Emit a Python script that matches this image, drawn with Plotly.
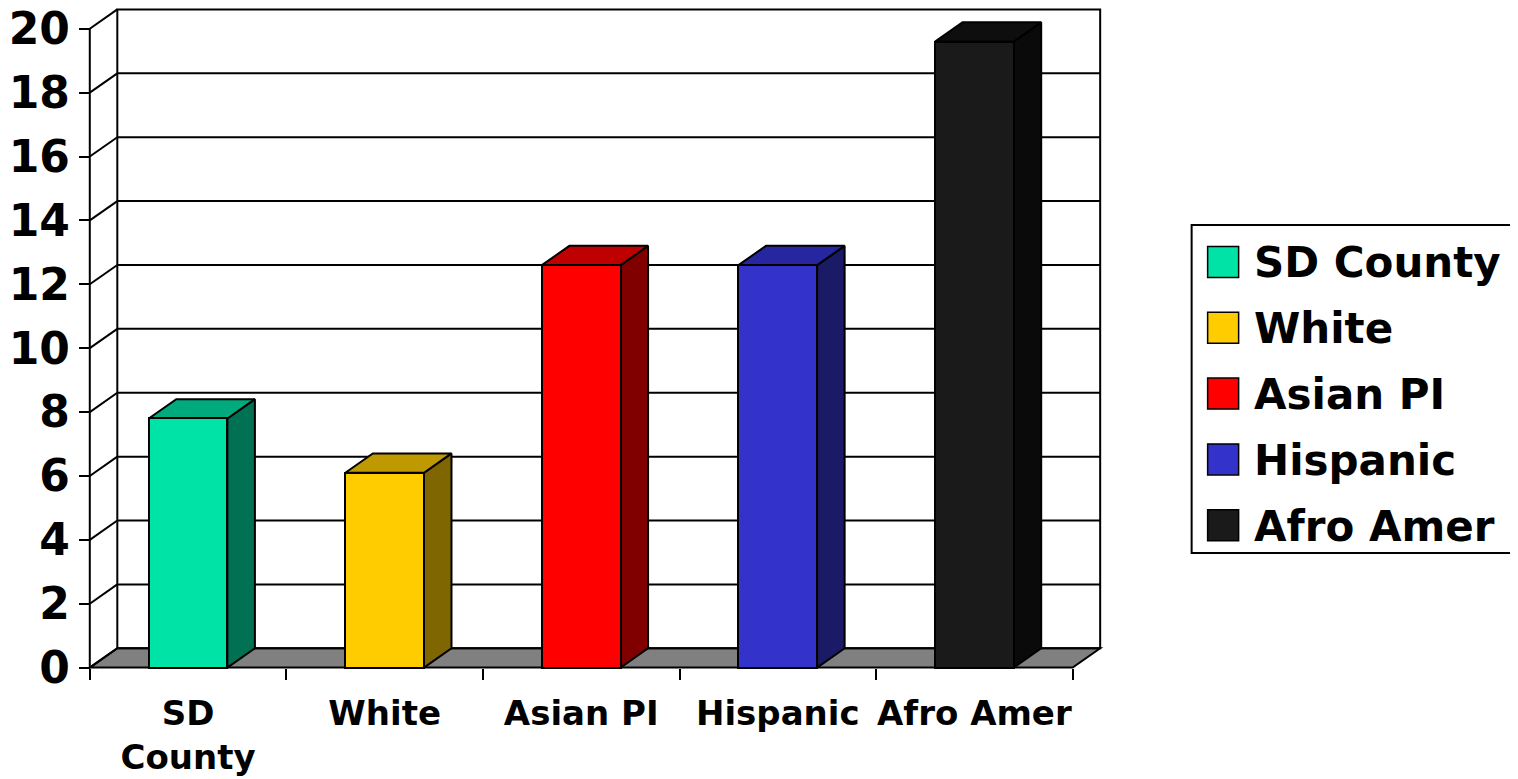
import plotly.graph_objects as go

# ---------------- data ----------------
categories = ["SD County", "White", "Asian PI", "Hispanic", "Afro Amer"]
axis_labels = ["SD<br>County", "White", "Asian PI", "Hispanic", "Afro Amer"]
values = [7.8, 6.1, 12.6, 12.6, 19.6]
y_tick_values = [0, 2, 4, 6, 8, 10, 12, 14, 16, 18, 20]
y_tick_labels = ["0", "2", "4", "6", "8", "10", "12", "14", "16", "18", "20"]

# ---------------- styles ----------------
front_colors = ["#00E3A6", "#FFCC00", "#FF0000", "#3333CC", "#1A1A1A"]
top_colors = ["#00AA7C", "#BF9900", "#BF0000", "#2626A0", "#0E0E0E"]
side_colors = ["#007153", "#806600", "#800000", "#1A1A66", "#0A0A0A"]
FONT = "DejaVu Sans"

W, H = 1518, 779
OFF = 8              # page body margin offset
PX_CAT = 196.6       # pixels per category
PX_UNIT = 31.93      # pixels per value unit
X_LEFT_PX = 90.0 - OFF     # pixel of front-left axis
Y_ZERO_PX = 667.5 - OFF    # pixel of front floor edge
DX = 0.14            # depth offset (category units)
DY = 0.605           # depth offset (value units)
BAR_W = 0.4
Y_MAX = 20
N = len(categories)

xr = [-0.56, N - 0.5 + DX + 0.05]
yr = [-0.2, Y_MAX + DY + 0.045]
plot_w = (xr[1] - xr[0]) * PX_CAT
plot_h = (yr[1] - yr[0]) * PX_UNIT
m_l = X_LEFT_PX - (-0.5 - xr[0]) * PX_CAT
m_r = W - m_l - plot_w
m_b = H - (Y_ZERO_PX + (0 - yr[0]) * PX_UNIT)
m_t = max(0.0, H - m_b - plot_h)


def pxx(px):
    return (px - OFF - m_l) / plot_w


def pxy(py):
    return (H - m_b - (py - OFF)) / plot_h


xpos = list(range(N))
fig = go.Figure()

# front faces
fig.add_trace(go.Bar(
    x=xpos, y=values, width=BAR_W, xaxis="x2", yaxis="y",
    marker=dict(color=front_colors, line=dict(color="black", width=2)),
    hoverinfo="skip", showlegend=False,
))

# side and top faces derived from values
for i, v in enumerate(values):
    xl, xrr = i - BAR_W / 2, i + BAR_W / 2
    fig.add_trace(go.Scatter(
        x=[xrr, xrr + DX, xrr + DX, xrr, xrr],
        y=[0, DY, v + DY, v, 0],
        fill="toself", fillcolor=side_colors[i], mode="lines",
        line=dict(color="black", width=2), hoverinfo="skip", showlegend=False,
    ))
    fig.add_trace(go.Scatter(
        x=[xl, xrr, xrr + DX, xl + DX, xl],
        y=[v, v, v + DY, v + DY, v],
        fill="toself", fillcolor=top_colors[i], mode="lines",
        line=dict(color="black", width=2), hoverinfo="skip", showlegend=False,
    ))

shapes = []
line_style = dict(color="black", width=2)
x_front_l, x_front_r = -0.5, N - 0.5
# floor
shapes.append(dict(
    type="path", xref="x", yref="y", layer="below",
    path=f"M {x_front_l},0 L {x_front_r},0 L {x_front_r + DX},{DY} L {x_front_l + DX},{DY} Z",
    fillcolor="#808080", line=line_style,
))
# back wall
shapes.append(dict(type="rect", xref="x", yref="y", layer="below",
                   x0=x_front_l + DX, x1=x_front_r + DX, y0=DY, y1=Y_MAX + DY,
                   line=line_style))
for v in y_tick_values:
    if 0 < v < Y_MAX:
        shapes.append(dict(type="line", xref="x", yref="y", layer="below",
                           x0=x_front_l + DX, x1=x_front_r + DX, y0=v + DY, y1=v + DY,
                           line=line_style))
    shapes.append(dict(type="line", xref="x", yref="y", layer="below",
                       x0=x_front_l, x1=x_front_l + DX, y0=v, y1=v + DY,
                       line=line_style))
# front vertical axis line
shapes.append(dict(type="line", xref="x", yref="y", layer="below",
                   x0=x_front_l, x1=x_front_l, y0=0, y1=Y_MAX, line=line_style))

# manual legend
shapes.append(dict(type="rect", xref="paper", yref="paper",
                   x0=pxx(1192), x1=pxx(1513), y0=pxy(553), y1=pxy(225),
                   line=line_style, fillcolor="white"))
annotations = []
row0, row_step, sw = 262, 65.8, 31
for i, name in enumerate(categories):
    cy = row0 + i * row_step
    shapes.append(dict(type="rect", xref="paper", yref="paper",
                       x0=pxx(1208), x1=pxx(1208 + sw),
                       y0=pxy(cy + sw / 2), y1=pxy(cy - sw / 2),
                       fillcolor=front_colors[i], line=dict(color="black", width=1.5)))
    annotations.append(dict(xref="paper", yref="paper", x=pxx(1252), y=pxy(cy + 1),
                            text=name, showarrow=False, xanchor="left", yanchor="middle",
                            font=dict(family=FONT, size=42, color="black", weight="bold")))

fig.update_layout(
    width=W, height=H,
    margin=dict(l=m_l, r=m_r, t=m_t, b=m_b, pad=0),
    paper_bgcolor="white", plot_bgcolor="white",
    showlegend=False, bargap=0,
    shapes=shapes, annotations=annotations,
    xaxis=dict(range=xr, anchor="free", position=pxy(Y_ZERO_PX + OFF),
               tickvals=[k - 0.5 for k in range(N + 1)], ticktext=[""] * (N + 1),
               ticks="outside", ticklen=11, tickwidth=2, tickcolor="black",
               showgrid=False, zeroline=False, showline=False, automargin=False,
               fixedrange=True),
    xaxis2=dict(range=xr, overlaying="x", anchor="free", position=pxy(Y_ZERO_PX + OFF),
                side="bottom", tickvals=xpos, ticktext=axis_labels, ticks="",
                ticklabelstandoff=22, ticklabeloverflow="allow",
                tickfont=dict(family=FONT, size=34, color="black", weight="bold"),
                showgrid=False, zeroline=False, showline=False, automargin=False),
    yaxis=dict(range=yr, anchor="free", position=pxx(X_LEFT_PX + OFF),
               tickvals=y_tick_values, ticktext=y_tick_labels,
               ticks="outside", ticklen=11, tickwidth=2, tickcolor="black",
               ticklabeloverflow="allow",
               tickfont=dict(family=FONT, size=44, color="black", weight="bold"),
               showgrid=False, zeroline=False, showline=False, automargin=False),
)

fig.write_html("out.html")
